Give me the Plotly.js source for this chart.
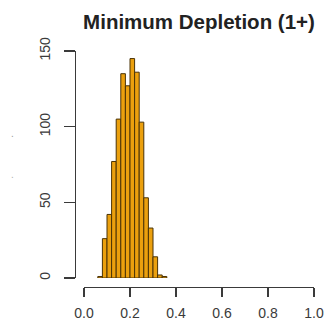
<!DOCTYPE html>
<html>
<head>
<meta charset="utf-8">
<script src="https://cdn.plot.ly/plotly-3.0.1.min.js"></script>
<style>
  html, body { margin: 0; padding: 0; background: #fff; }
  #chart { width: 329px; height: 332px; }
</style>
</head>
<body>
<div id="chart"></div>
<script>
// Histogram bins (left edges) and counts
const binLeft = [0.06, 0.08, 0.10, 0.12, 0.14, 0.16, 0.18, 0.20, 0.22, 0.24, 0.26, 0.28, 0.30, 0.32, 0.34];
const counts  = [1, 26, 42, 77, 105, 135, 127, 145, 136, 103, 53, 33, 14, 2, 1];
const binWidth = 0.02;
const xTicks = [0, 0.2, 0.4, 0.6, 0.8, 1.0];
const yTicks = [0, 50, 100, 150];
const titleText = 'Minimum Depletion (1+)';

const W = 329, H = 332;
const px = v => v / W;
const py = v => (H - v) / H;

const trace = {
  type: 'bar',
  x: binLeft.map(l => l + binWidth / 2),
  y: counts,
  width: binWidth,
  marker: { color: '#EBA00E', line: { color: '#4A3306', width: 1 } },
  hoverinfo: 'x+y'
};

const tickFont = { family: 'Liberation Sans, Arial, sans-serif', size: 14, color: '#3a3a3a' };

const layout = {
  width: W, height: H,
  margin: { l: 0, r: 0, t: 0, b: 0 },
  paper_bgcolor: '#ffffff',
  plot_bgcolor: 'rgba(0,0,0,0)',
  showlegend: false,
  bargap: 0,
  title: {
    text: '<b>' + titleText + '</b>',
    font: { family: 'Liberation Sans, Arial, sans-serif', size: 20.5, color: '#222222' },
    x: px(199), xanchor: 'center', xref: 'paper',
    y: py(22), yanchor: 'middle', yref: 'paper'
  },
  xaxis: {
    domain: [px(84), px(314)],
    range: [0, 1],
    anchor: 'free',
    position: py(287),
    showgrid: false, zeroline: false,
    showline: true, linecolor: '#3a3a3a', linewidth: 1.3,
    ticks: 'outside', ticklen: 9, tickwidth: 1.3, tickcolor: '#3a3a3a',
    tickvals: xTicks,
    ticktext: xTicks.map(v => v.toFixed(1)),
    tickfont: tickFont,
    ticklabelstandoff: 4,
    fixedrange: true
  },
  yaxis: {
    domain: [py(278), py(51)],
    range: [0, 150],
    anchor: 'free',
    position: px(75),
    showgrid: false, zeroline: false,
    showline: true, linecolor: '#3a3a3a', linewidth: 1.3,
    ticks: 'outside', ticklen: 11, tickwidth: 1.3, tickcolor: '#3a3a3a',
    tickvals: yTicks,
    ticktext: yTicks.map(String),
    tickangle: -90,
    tickfont: tickFont,
    ticklabelstandoff: 8,
    fixedrange: true
  },
  annotations: [
    { text: '.', xref: 'paper', yref: 'paper', x: px(9), y: py(133), showarrow: false,
      font: { family: 'Liberation Sans, Arial, sans-serif', size: 10, color: '#9a9a9a' } },
    { text: '.', xref: 'paper', yref: 'paper', x: px(9), y: py(174), showarrow: false,
      font: { family: 'Liberation Sans, Arial, sans-serif', size: 10, color: '#b0b0b0' } }
  ]
};

Plotly.newPlot('chart', [trace], layout, { displayModeBar: false, staticPlot: true });
</script>
</body>
</html>
